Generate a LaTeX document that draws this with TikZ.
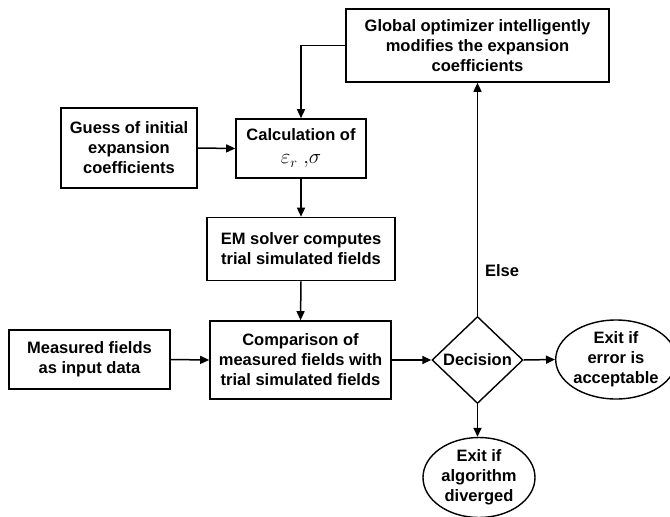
\documentclass[tikz,border=0pt]{standalone}
\usepackage{fontspec}
\setmainfont{Liberation Sans}
\usetikzlibrary{shapes.geometric,arrows.meta}
\begin{document}
\begin{tikzpicture}[x=1pt,y=-1pt,
  every node/.style={font=\bfseries\fontsize{16.5}{20}\selectfont, align=center, inner sep=0pt},
  box/.style={draw, line width=1.6pt, rectangle},
  oval/.style={draw, line width=1.4pt, ellipse},
  dec/.style={draw, line width=1.4pt, diamond},
  conn/.style={line width=1.5pt, -{Triangle[length=9pt,width=8pt]}}]
\useasboundingbox (0,0) rectangle (670,517);
\node[box, minimum width=263pt, minimum height=73pt] (glob) at (477.5,45.5) {Global optimizer intelligently\\modifies the expansion\\coefficients};
\node[box, minimum width=130pt, minimum height=59pt] (calc) at (301,148.5) {Calculation of\\[3pt]\fontseries{m}\fontsize{20}{22}\selectfont$\varepsilon_r\;{,}\sigma$};
\node[box, minimum width=136pt, minimum height=80pt] (guess) at (129,148) {Guess of initial\\expansion\\coefficients};
\node[box, minimum width=188pt, minimum height=63pt] (em) at (301,249) {EM solver computes\\trial simulated fields};
\node[box, minimum width=181pt, minimum height=78pt] (comp) at (300.5,360) {Comparison of\\measured fields with\\trial simulated fields};
\node[box, minimum width=161pt, minimum height=59pt] (meas) at (89.5,359.5) {Measured fields\\as input data};
\node[dec, minimum width=91pt, minimum height=87pt] (dec) at (477.5,360) {Decision};
\node[oval, minimum width=107pt, minimum height=79pt] (exa) at (616,359.5) {Exit if\\error is\\acceptable};
\node[oval, minimum width=112pt, minimum height=80pt] (exd) at (479,477.5) {Exit if\\algorithm\\diverged};
\node (else) at (502,271) {Else};
\draw[conn] (glob.west) -| (calc.north);
\draw[conn] (guess.east) -- (calc.west);
\draw[conn] (calc.south) -- (em.north);
\draw[conn] (em.south) -- (comp.north);
\draw[conn] (meas.east) -- (comp.west);
\draw[conn] (comp.east) -- (dec.west);
\draw[conn] (dec.east) -- (exa.west);
\draw[conn] (dec.south) -- (dec.south |- exd.north);
\draw[conn] (dec.north) -- (dec.north |- glob.south);
\end{tikzpicture}
\end{document}
